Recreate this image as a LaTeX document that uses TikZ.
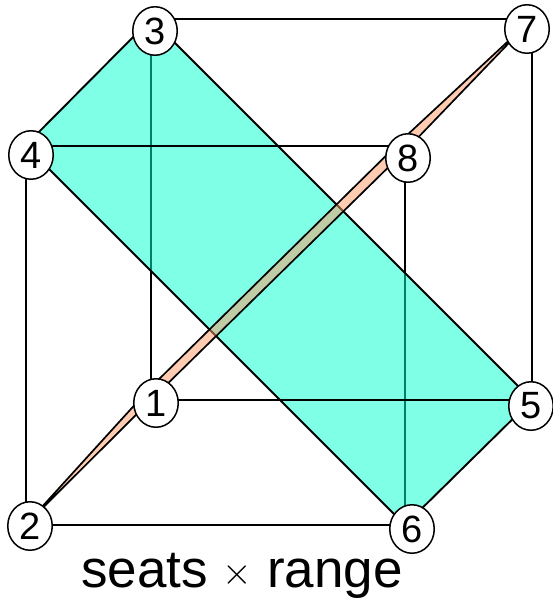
\documentclass[tikz,border=0pt]{standalone}
\usepackage{fontspec}
\setmainfont{Liberation Sans}
\usetikzlibrary{shapes.geometric}
\pgfdeclarelayer{edges}
\pgfsetlayers{edges,main}
\definecolor{tealfill}{RGB}{0,255,205}
\definecolor{orangefill}{RGB}{255,153,102}
\tikzset{
  vertexnode/.style={ellipse,draw=black,line width=1.5pt,fill=white,minimum width=44.5pt,minimum height=48.5pt,inner sep=0pt,font=\fontsize{38}{38}\selectfont},
  edgeline/.style={draw=black,line width=2pt,line cap=round},
  tealface/.style={fill=tealfill,fill opacity=.5,draw=black,draw opacity=1,line width=1.9pt,line join=miter},
  orangeface/.style={fill=orangefill,fill opacity=.5,draw=black,draw opacity=1,line width=1.7pt,line join=miter},
  caption/.style={anchor=base,inner sep=0pt,font=\fontsize{53}{53}\selectfont}
}
\begin{document}
\begin{tikzpicture}[x=1pt,y=-1pt]
\useasboundingbox (0,0) rectangle (553,600);
\node[vertexnode] (n1) at (156,403) {1};
\node[vertexnode] (n2) at (30,526) {2};
\node[vertexnode] (n3) at (155,31) {3};
\node[vertexnode] (n4) at (31,155) {4};
\node[vertexnode] (n5) at (531,406) {5};
\node[vertexnode] (n6) at (412,529) {6};
\node[vertexnode] (n7) at (527,29) {7};
\node[vertexnode] (n8) at (408,158) {8};
\node[caption] (cap) at (242,587) {seats \raisebox{2.5pt}{\scalebox{3.8}{\fontsize{10}{10}\selectfont$\times$}} range};
% cube corners, hidden under the number discs
\coordinate (v1) at ([shift={(-5,-3)}]n1.center);
\coordinate (v2) at ([shift={(-4.5,-1)}]n2.center);
\coordinate (v3) at ([shift={(-4,-12)}]n3.center);
\coordinate (v4) at ([shift={(-5.5,-9.5)}]n4.center);
\coordinate (v5) at ([shift={(1,-6)}]n5.center);
\coordinate (v6) at ([shift={(-7,-4)}]n6.center);
\coordinate (v7) at ([shift={(5,-10)}]n7.center);
\coordinate (v8) at ([shift={(-3,-12.5)}]n8.center);
% thin orange sliver corners
\coordinate (a1) at ([shift={(-6,-15)}]n1.center);
\coordinate (b1) at ([shift={(-1,-7)}]n1.center);
\coordinate (a8) at ([shift={(-3,-21)}]n8.center);
\coordinate (b8) at ([shift={(0,-10)}]n8.center);
\begin{pgfonlayer}{edges}
\draw[edgeline] (v3) -- (v1);
\draw[edgeline] (v8) -- (v6);
\draw[edgeline] (v7) -- (v5);
\draw[edgeline] (v4) -- (v2);
\draw[tealface] (v3) -- (v4) -- (v6) -- (v5) -- cycle;
\draw[edgeline] (v3) -- (v7);
\draw[edgeline] (v4) -- (v8);
\draw[edgeline] (v1) -- (v5);
\draw[edgeline] (v2) -- (v6);
\draw[orangeface] (v2) -- (a1) -- (a8) -- (v7) -- (b8) -- (b1) -- cycle;
\end{pgfonlayer}
\end{tikzpicture}
\end{document}
